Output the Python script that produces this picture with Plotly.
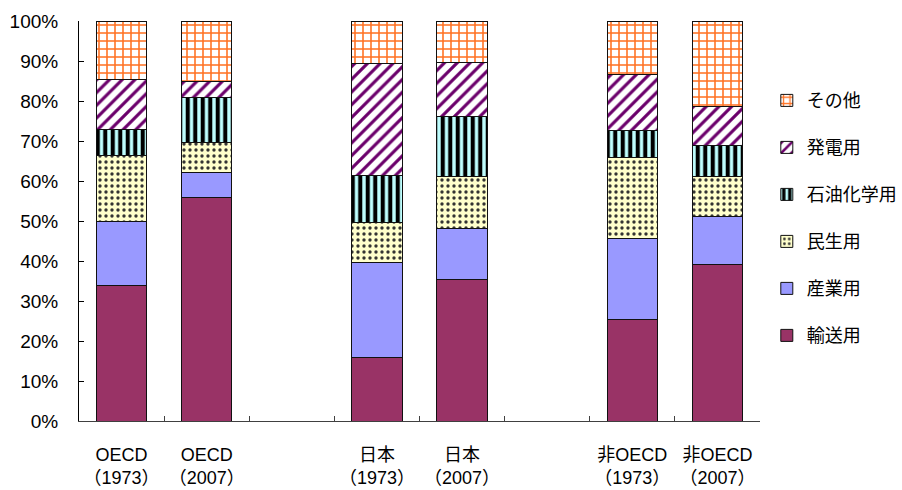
import plotly.graph_objects as go

categories = ["OECD<br>（1973）", "OECD<br>（2007）", " ",
              "日本<br>（1973）", "日本<br>（2007）", "  ",
              "非OECD<br>（1973）", "非OECD<br>（2007）"]

transport = [34.0, 56.0, None, 16.0, 35.3, None, 25.5, 39.2]
industry = [16.0, 6.1, None, 23.6, 12.8, None, 20.1, 11.9]
residential = [16.4, 7.6, None, 10.0, 13.0, None, 20.2, 10.0]
petrochem = [6.6, 11.1, None, 11.7, 15.0, None, 6.8, 7.9]
power = [12.5, 4.0, None, 28.1, 13.6, None, 14.0, 9.6]
other = [14.5, 15.2, None, 10.6, 10.3, None, 13.4, 21.4]

series = [
    ("輸送用", transport, dict(color="#993366")),
    ("産業用", industry, dict(color="#9999FF")),
    ("民生用", residential, dict(color="#FFFFCC",
                               pattern=dict(shape=".", fgcolor="#333333", bgcolor="#FFFFCC",
                                            size=6, solidity=0.25, fillmode="replace"))),
    ("石油化学用", petrochem, dict(color="#BFFFFF",
                                  pattern=dict(shape="|", fgcolor="#000000", bgcolor="#BFFFFF",
                                               size=7.5, solidity=0.55, fillmode="replace"))),
    ("発電用", power, dict(color="#FFFFFF",
                          pattern=dict(shape="/", fgcolor="#6B006B", bgcolor="#FFFFFF",
                                       size=9, solidity=0.35, fillmode="replace"))),
    ("その他", other, dict(color="#FFFFFF",
                          pattern=dict(shape="+", fgcolor="#FF7020", bgcolor="#FFFFFF",
                                       size=8, solidity=0.35, fillmode="replace"))),
]

fig = go.Figure()
n = len(series)
for i, (name, vals, mk) in enumerate(series):
    mk = dict(mk)
    mk["line"] = dict(color="#111111", width=1)
    fig.add_trace(go.Bar(x=categories, y=vals, name=name, marker=mk,
                         legendgroup="g%d" % i, legendrank=n - i))

font_family = "Liberation Sans, Arial, Noto Sans CJK JP"

fig.update_layout(
    width=902, height=490,
    barmode="stack", bargap=0.41,
    plot_bgcolor="white", paper_bgcolor="white",
    margin=dict(l=79, r=142, t=21, b=69, autoexpand=False),
    font=dict(family=font_family, size=16, color="#000000"),
    legend=dict(x=1.01, y=0.847, xanchor="left", yanchor="top",
                traceorder="grouped", tracegroupgap=20.6,
                font=dict(size=18, family="Noto Sans CJK JP, Liberation Sans"),
                bgcolor="rgba(0,0,0,0)"),
    showlegend=True,
)
fig.update_xaxes(
    type="category", categoryorder="array", categoryarray=categories,
    showline=True, linecolor="#404040", linewidth=1,
    ticks="inside", ticklen=5, tickcolor="#404040", tickson="boundaries",
    showgrid=False, ticklabelstandoff=17, tickangle=0, automargin=False,
    tickfont=dict(size=18, family=font_family),
)
fig.update_yaxes(
    range=[0, 100], dtick=10, ticksuffix="%",
    showline=True, linecolor="#000000", linewidth=1,
    ticks="inside", ticklen=5, tickcolor="#000000",
    showgrid=False, zeroline=False, ticklabelstandoff=16, automargin=False,
    tickfont=dict(size=19, family=font_family),
)

fig.write_html("out.html")
